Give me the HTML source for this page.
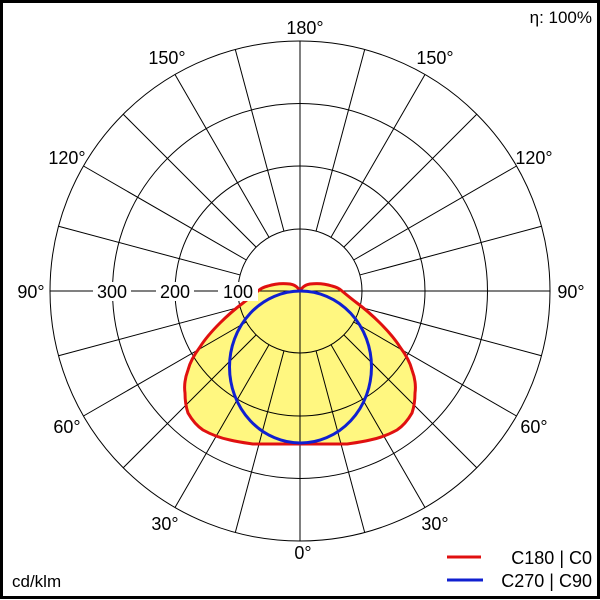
<!DOCTYPE html>
<html><head><style>html,body{margin:0;padding:0;background:#fff}svg{display:block}</style></head><body>
<svg width="600" height="600" viewBox="0 0 600 600" xmlns="http://www.w3.org/2000/svg" font-family="Liberation Sans, Arial, sans-serif">
<rect x="0" y="0" width="600" height="600" fill="#fff"/>
<defs>
<path id="red" d="M300,291 C298,288 296,285 290,284 C282,283 274,284 268,286 C264,287 260,289 258,291 C252,296 247,300 243,303 C235,309 227,316 220,323 C212,331 205,339 200,347 C194,355 190,362 188,370 C185,378 184,386 185,393 C185,400 186,407 188,413 C192,420 197,426 203,430 C212,435 220,438 230,440 C238,442 246,443 253,444 L347,444 C354,443 362,442 370,440 C380,438 388,435 397,430 C403,426 408,420 412,413 C414,407 415,400 415,393 C416,386 415,378 412,370 C410,362 406,355 400,347 C395,339 388,331 380,323 C373,316 365,309 357,303 C353,300 348,296 342,291 C340,289 336,287 332,286 C326,284 318,283 310,284 C304,285 302,288 300,291 Z"/>
</defs>
<use href="#red" fill="#fff780"/>
<g stroke="#000" stroke-width="1" fill="none">
<circle cx="300" cy="291" r="62"/>
<circle cx="300" cy="291" r="125"/>
<circle cx="300" cy="291" r="187.5"/>
<circle cx="300" cy="291" r="250"/>
<line x1="300" y1="41" x2="300" y2="541"/>
<line x1="50" y1="291" x2="550" y2="291"/>
<g id="rad">
<line x1="362" y1="291" x2="550" y2="291" transform="rotate(15 300 291)"/>
<line x1="362" y1="291" x2="550" y2="291" transform="rotate(30 300 291)"/>
<line x1="362" y1="291" x2="550" y2="291" transform="rotate(45 300 291)"/>
<line x1="362" y1="291" x2="550" y2="291" transform="rotate(60 300 291)"/>
<line x1="362" y1="291" x2="550" y2="291" transform="rotate(75 300 291)"/>
<line x1="362" y1="291" x2="550" y2="291" transform="rotate(105 300 291)"/>
<line x1="362" y1="291" x2="550" y2="291" transform="rotate(120 300 291)"/>
<line x1="362" y1="291" x2="550" y2="291" transform="rotate(135 300 291)"/>
<line x1="362" y1="291" x2="550" y2="291" transform="rotate(150 300 291)"/>
<line x1="362" y1="291" x2="550" y2="291" transform="rotate(165 300 291)"/>
</g>
<use href="#rad" transform="rotate(180 300 291)"/>
</g>
<use href="#red" fill="none" stroke="#e01010" stroke-width="3" stroke-linejoin="round"/>
<ellipse cx="300.5" cy="367" rx="71" ry="76" fill="none" stroke="#1020d0" stroke-width="3"/>
<g font-size="18" fill="#000" text-anchor="middle">
<rect x="93" y="282" width="38" height="19" fill="#fff"/>
<rect x="156" y="282" width="38" height="19" fill="#fff"/>
<rect x="218" y="282" width="40" height="19" fill="#fff"/>
<text x="112" y="298">300</text>
<text x="175" y="298">200</text>
<text x="238" y="298">100</text>
<text x="305" y="34">180°</text>
<text x="167" y="64">150°</text>
<text x="435" y="64">150°</text>
<text x="67" y="164">120°</text>
<text x="534" y="164">120°</text>
<rect x="11" y="282" width="38" height="19" fill="#fff"/>
<rect x="552" y="282" width="38" height="19" fill="#fff"/>
<text x="31" y="298">90°</text>
<text x="571" y="298">90°</text>
<text x="67" y="433">60°</text>
<text x="534" y="433">60°</text>
<text x="165" y="530">30°</text>
<text x="435" y="530">30°</text>
<text x="303" y="559">0°</text>
</g>
<text x="592" y="23" font-size="17" text-anchor="end">η: 100%</text>
<text x="12" y="587" font-size="17">cd/klm</text>
<line x1="447" y1="557" x2="481" y2="557" stroke="#e01010" stroke-width="3"/>
<line x1="447" y1="580" x2="483" y2="580" stroke="#1020d0" stroke-width="3"/>
<text x="592" y="564" font-size="18" text-anchor="end">C180 | C0</text>
<text x="592" y="587" font-size="18" text-anchor="end">C270 | C90</text>
<rect x="1.5" y="1.5" width="597" height="596" fill="none" stroke="#000" stroke-width="3"/>
</svg>
</body></html>
